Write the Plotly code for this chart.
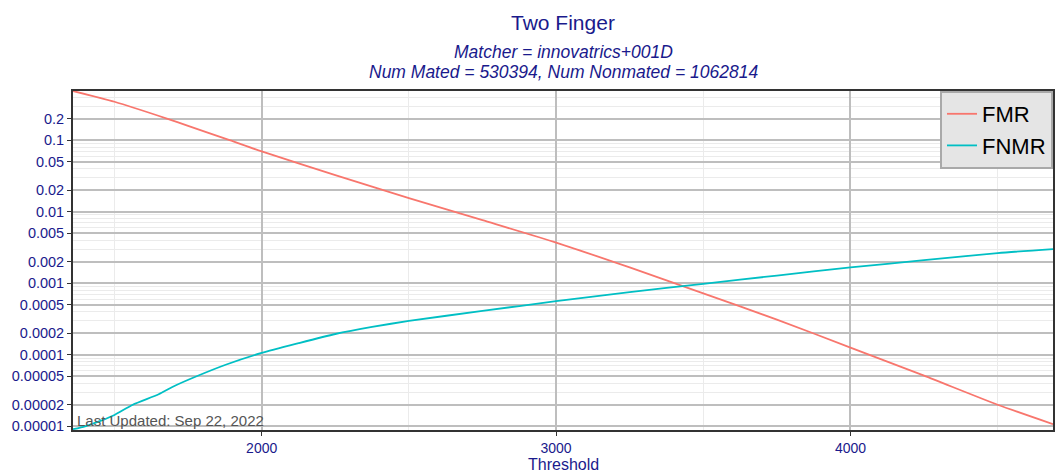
import plotly.graph_objects as go

# FMR curve (threshold, rate)
fmr_thr = [1359, 1500, 1678, 1750, 1891, 2000, 2250, 2500, 2750, 3000, 3250,
           3500, 3750, 4000, 4250, 4500, 4688]
fmr_val = [0.486, 0.344, 0.20, 0.158, 0.10, 0.0695, 0.0324, 0.0155, 0.0076, 0.0037,
           0.00166, 0.00072, 0.00031, 0.000126, 0.000051, 0.00002, 0.0000107]

# FNMR curve (threshold, rate)
fnmr_thr = [1359, 1400, 1450, 1500, 1562, 1650, 1700, 1779, 1880, 2000, 2125, 2250,
            2375, 2500, 2750, 3000, 3250, 3500, 3750, 4000, 4250, 4500, 4688]
fnmr_val = [0.0000091, 0.0000100, 0.0000118, 0.0000144, 0.00002, 0.000028, 0.000036,
            0.00005, 0.000073, 0.000106, 0.000145, 0.000195, 0.000245, 0.000297,
            0.00041, 0.00056, 0.00075, 0.00098, 0.00128, 0.00166, 0.0021, 0.00264,
            0.0030]

y_ticks = [0.00001, 0.00002, 0.00005, 0.0001, 0.0002, 0.0005, 0.001, 0.002, 0.005,
           0.01, 0.02, 0.05, 0.1, 0.2]
y_labels = ["0.00001", "0.00002", "0.00005", "0.0001", "0.0002", "0.0005", "0.001",
            "0.002", "0.005", "0.01", "0.02", "0.05", "0.1", "0.2"]
x_ticks = [2000, 3000, 4000]
x_minor = [1500, 2500, 3500, 4500]

y_minor = []
for e in range(-5, 0):
    for d in [3, 4, 6, 7, 8, 9]:
        y_minor.append(d * 10 ** e)

navy = "#1a1a8c"
font = "Liberation Sans, Arial, sans-serif"

fig = go.Figure()
fig.add_trace(go.Scatter(x=fmr_thr, y=fmr_val, mode="lines", name="FMR",
                         line=dict(color="#F8766D", width=1.8, shape="spline", smoothing=0.6)))
fig.add_trace(go.Scatter(x=fnmr_thr, y=fnmr_val, mode="lines", name="FNMR",
                         line=dict(color="#00BFC4", width=1.8, shape="spline", smoothing=0.6)))

fig.update_layout(
    width=1055, height=473,
    margin=dict(l=73, r=0, t=91, b=43),
    paper_bgcolor="white", plot_bgcolor="white",
    font=dict(family=font, color=navy),
    showlegend=True,
    legend=dict(x=1, y=1, xanchor="right", yanchor="top",
                bgcolor="#E5E5E5", bordercolor="#A9A9A9", borderwidth=2,
                font=dict(size=22, color="black"), tracegroupgap=0),
    xaxis=dict(range=[1359, 4688], tickmode="array", tickvals=x_ticks,
               tickfont=dict(size=14, color=navy),
               showgrid=True, gridcolor="#BEBEBE", gridwidth=1.5,
               minor=dict(tickmode="array", tickvals=x_minor, showgrid=True,
                          gridcolor="#EBEBEB", gridwidth=1, ticks=""),
               showline=True, linecolor="#333333", linewidth=1.8, mirror=True,
               ticks="outside", ticklen=4, tickcolor="#333333", zeroline=False),
    yaxis=dict(type="log", range=[-5.052, -0.313], tickmode="array",
               tickvals=y_ticks, ticktext=y_labels,
               tickfont=dict(size=14.5, color=navy),
               showgrid=True, gridcolor="#BEBEBE", gridwidth=1.5,
               minor=dict(tickmode="array", tickvals=y_minor, showgrid=True,
                          gridcolor="#EBEBEB", gridwidth=1, ticks=""),
               showline=True, linecolor="#333333", linewidth=1.8, mirror=True,
               ticks="outside", ticklen=4, tickcolor="#333333", zeroline=False),
    annotations=[
        dict(text="Two Finger", xref="paper", yref="paper", x=0.5, y=1.2035,
             xanchor="center", yanchor="middle", showarrow=False,
             font=dict(size=21, color=navy, family=font)),
        dict(text="<i>Matcher = innovatrics+001D</i>", xref="paper", yref="paper",
             x=0.5, y=1.115, xanchor="center", yanchor="middle", showarrow=False,
             font=dict(size=17.5, color=navy, family=font)),
        dict(text="<i>Num Mated = 530394, Num Nonmated = 1062814</i>", xref="paper",
             yref="paper", x=0.5, y=1.056, xanchor="center", yanchor="middle",
             showarrow=False, font=dict(size=17.5, color=navy, family=font)),
        dict(text="Threshold", xref="paper", yref="paper", x=0.5, y=-0.102,
             xanchor="center", yanchor="middle", showarrow=False,
             font=dict(size=16, color=navy, family=font)),
        dict(text="Last Updated: Sep 22, 2022", xref="paper", yref="paper",
             x=0.0, y=0.0, xanchor="left", yanchor="bottom", xshift=2, yshift=-1,
             showarrow=False, font=dict(size=15, color="#555555", family=font)),
    ],
)

fig.write_html("out.html", config={"displayModeBar": False},
               post_script="document.body.style.margin='0';")
